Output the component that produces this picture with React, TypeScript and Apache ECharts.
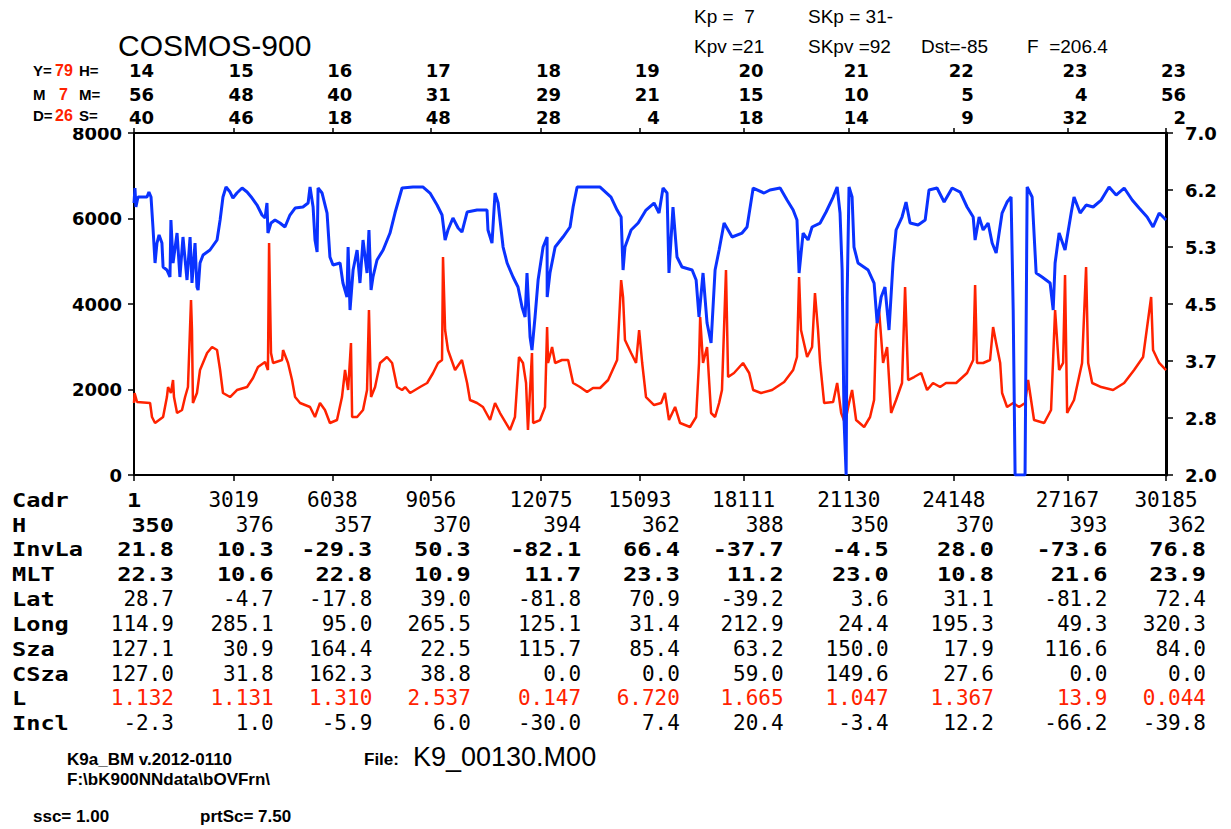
import React, { useEffect, useRef } from "react";
import * as echarts from "echarts";

// ---- time ticks (H, M, S rows) ----
const tickH = [14, 15, 16, 17, 18, 19, 20, 21, 22, 23, 23];
const tickM = [56, 48, 40, 31, 29, 21, 15, 10, 5, 4, 56];
const tickS = [40, 46, 18, 48, 28, 4, 18, 14, 9, 32, 2];

// ---- table rows ----
const cadr = [1, 3019, 6038, 9056, 12075, 15093, 18111, 21130, 24148, 27167, 30185];
const hRow = [350, 376, 357, 370, 394, 362, 388, 350, 370, 393, 362];
const invLa = [21.8, 10.3, -29.3, 50.3, -82.1, 66.4, -37.7, -4.5, 28.0, -73.6, 76.8];
const mlt = [22.3, 10.6, 22.8, 10.9, 11.7, 23.3, 11.2, 23.0, 10.8, 21.6, 23.9];
const lat = [28.7, -4.7, -17.8, 39.0, -81.8, 70.9, -39.2, 3.6, 31.1, -81.2, 72.4];
const lon = [114.9, 285.1, 95.0, 265.5, 125.1, 31.4, 212.9, 24.4, 195.3, 49.3, 320.3];
const sza = [127.1, 30.9, 164.4, 22.5, 115.7, 85.4, 63.2, 150.0, 17.9, 116.6, 84.0];
const csza = [127.0, 31.8, 162.3, 38.8, 0.0, 0.0, 59.0, 149.6, 27.6, 0.0, 0.0];
const lRow = ["1.132", "1.131", "1.310", "2.537", "0.147", "6.720", "1.665", "1.047", "1.367", "13.9", "0.044"];
const incl = [-2.3, 1.0, -5.9, 6.0, -30.0, 7.4, 20.4, -3.4, 12.2, -66.2, -39.8];

// ---- axes ----
const leftMin = 0, leftMax = 8000, leftStep = 2000;
const rightMin = 2.0, rightMax = 7.0, rightDivs = 6;

// ---- series: [minutes since first tick, counts] ----
const blueData: [number, number][] = [
  [0, 6362], [0.5, 6713], [1.0, 6269], [2.1, 6502], [6.8, 6502], [7.8, 6619], [8.9, 6502], [9.9, 5801],
  [11.0, 4959], [12.0, 5426], [13.1, 5614], [14.6, 5426], [15.2, 4865], [17.2, 4795], [18.8, 4631], [19.3, 5964],
  [20.4, 4959], [22.5, 5660], [24.0, 4631], [25.6, 5567], [27.7, 4561], [29.3, 5567], [30.3, 4491], [31.9, 5426],
  [32.9, 4397], [33.5, 4327], [34.5, 4959], [36.1, 5146], [39.7, 5263], [43.4, 5497], [45.0, 5964], [46.5, 6502],
  [48.1, 6736], [50.2, 6619], [51.7, 6479], [53.8, 6596], [56.5, 6713], [59.1, 6619], [61.7, 6479], [64.3, 6315],
  [66.9, 6081], [68.5, 6011], [69.5, 6362], [70.0, 5660], [71.6, 5894], [73.7, 5964], [76.3, 5894], [78.9, 5801],
  [81.5, 6081], [84.2, 6245], [88.3, 6269], [91.0, 6362], [92.0, 6736], [93.6, 6269], [94.6, 5497], [95.7, 5216],
  [96.2, 6713], [98.3, 6596], [100.9, 6128], [102.4, 5099], [104.0, 4912], [107.7, 4959], [109.2, 4491], [111.3, 4163],
  [111.9, 5333], [112.9, 3859], [114.5, 4795], [116.6, 5263], [118.1, 4491], [119.7, 5497], [121.8, 4725], [122.8, 5731],
  [123.9, 4327], [124.9, 4631], [127.0, 5029], [130.2, 5263], [133.8, 5660], [136.4, 6128], [140.1, 6713], [145.8, 6736],
  [151.1, 6736], [154.7, 6596], [158.4, 6315], [161.0, 6081], [162.6, 5497], [164.1, 5731], [166.7, 6011], [169.4, 5777],
  [171.4, 5684], [174.1, 6152], [179.3, 6198], [184.5, 6198], [185.0, 5731], [187.1, 5426], [188.7, 6596], [190.3, 6362],
  [192.9, 5333], [195.0, 4959], [198.1, 4631], [200.7, 4397], [202.8, 3930], [204.4, 3696], [205.4, 4725], [207.0, 3228],
  [208.0, 2924], [209.6, 3696], [211.2, 4561], [213.8, 5333], [215.9, 5567], [215.95, 4163], [217.4, 4725], [220.1, 5333],
  [224.2, 5567], [227.9, 5801], [229.5, 6269], [231.6, 6736], [243.6, 6736], [249.3, 6502], [252.5, 6198], [254.6, 6035],
  [255.6, 4795], [256.6, 5333], [259.8, 5731], [263.5, 5894], [267.6, 6198], [271.8, 6362], [274.4, 6128], [276.5, 6713],
  [278.6, 6596], [279.6, 4725], [281.7, 6269], [283.8, 5099], [286.4, 4865], [291.7, 4795], [293.8, 4561], [295.3, 3696],
  [297.4, 4725], [299.5, 3555], [301.6, 3087], [303.7, 4795], [305.8, 5263], [308.4, 5894], [310.5, 5731], [312.6, 5567],
  [317.8, 5660], [320.4, 5801], [323.6, 6713], [329.3, 6596], [332.4, 6666], [337.7, 6713], [341.3, 6432], [344.5, 6198],
  [346.5, 5964], [347.6, 4725], [349.7, 5660], [352.3, 5497], [354.4, 5801], [358.6, 5894], [361.7, 6152], [365.4, 6502],
  [367.5, 6736], [369.0, 6128], [370.1, 4795], [371.1, 1286], [372.2, 0], [372.7, 4163], [373.7, 6736], [375.3, 6502],
  [376.3, 5333], [378.4, 4959], [383.7, 4795], [386.8, 4491], [388.4, 3555], [390.5, 4163], [392.5, 4397], [394.6, 3392],
  [396.7, 4959], [398.3, 5731], [401.4, 6035], [403.5, 6385], [405.6, 5894], [409.8, 5848], [413.5, 5964], [415.5, 6666],
  [419.7, 6713], [423.4, 6385], [427.6, 6713], [431.8, 6619], [435.4, 6269], [438.6, 6035], [439.6, 5497], [441.7, 6035],
  [443.8, 5731], [446.4, 5894], [448.5, 5426], [450.6, 5193], [453.7, 6128], [456.3, 6385], [458.4, 6502], [459.5, 3859],
  [460.5, 0], [465.7, 0], [466.8, 6736], [469.4, 6502], [471.5, 4725], [474.6, 4631], [478.8, 4491], [480.4, 3859],
  [481.4, 4959], [483.5, 5660], [486.6, 5263], [489.8, 6128], [491.3, 6502], [494.5, 6128], [497.6, 6315], [501.3, 6269],
  [505.5, 6432], [509.6, 6736], [513.3, 6549], [517.5, 6713], [521.7, 6432], [525.3, 6245], [529.5, 6035], [532.6, 5801],
  [535.8, 6128], [539.4, 5964],
];

const redData: [number, number][] = [
  [0, 1684], [0.3, 1918], [1.6, 1707], [8.4, 1684], [9.4, 1357], [11.0, 1216], [15.2, 1357], [17.2, 1824],
  [17.8, 2058], [19.3, 1918], [20.4, 2222], [20.9, 1824], [22.5, 1450], [25.1, 1520], [26.7, 1824], [28.2, 2058],
  [29.8, 4093], [30.3, 3392], [30.8, 1684], [32.9, 1918], [34.5, 2456], [38.2, 2854], [40.8, 2994], [43.4, 2924],
  [45.0, 2456], [46.5, 1918], [50.2, 1824], [53.8, 1988], [59.1, 2058], [62.2, 2269], [64.8, 2526], [68.5, 2643],
  [70.0, 2456], [70.6, 5427], [71.6, 2854], [72.7, 2620], [77.4, 2690], [77.9, 2924], [80.5, 2620], [82.6, 2222],
  [84.2, 1824], [86.8, 1684], [92.0, 1591], [94.6, 1357], [97.2, 1684], [99.8, 1520], [102.4, 1216], [106.1, 1286],
  [108.7, 1824], [110.3, 2456], [111.9, 1988], [113.4, 3087], [114.0, 1357], [116.6, 1357], [119.7, 1520], [121.8, 1988],
  [122.8, 3859], [123.9, 1824], [126.0, 2058], [128.6, 2620], [132.2, 2760], [134.9, 2620], [137.5, 2058], [140.1, 1988],
  [141.7, 2058], [144.3, 1918], [149.5, 2058], [153.2, 2152], [156.3, 2386], [158.9, 2620], [161.0, 2690], [161.5, 5099],
  [162.6, 3392], [164.1, 2924], [167.8, 2456], [171.4, 2690], [174.1, 2152], [175.6, 1754], [179.3, 1684], [182.4, 1591],
  [186.1, 1286], [188.7, 1684], [191.3, 1450], [196.5, 1053], [199.1, 1357], [201.2, 2760], [203.3, 2620], [204.9, 2152],
  [205.9, 1053], [208.0, 2854], [208.6, 1216], [212.2, 1286], [214.8, 1591], [215.9, 3462], [216.4, 2620], [218.5, 2994],
  [220.1, 2620], [223.7, 2690], [226.9, 2690], [229.5, 2152], [233.1, 2058], [236.8, 1941], [239.9, 2035], [243.6, 2035],
  [247.8, 2222], [252.5, 2690], [254.6, 4561], [255.6, 4163], [256.6, 3158], [259.8, 2854], [262.4, 2620], [264.0, 3392],
  [265.6, 2620], [267.6, 1824], [271.8, 1637], [275.5, 1684], [277.5, 1918], [279.6, 1286], [282.8, 1591], [285.4, 1216],
  [290.6, 1123], [293.8, 1357], [295.3, 2620], [295.9, 3696], [297.4, 2620], [299.5, 2994], [301.6, 1450], [303.7, 1357],
  [305.8, 1684], [307.3, 1988], [309.4, 4795], [310.5, 2292], [313.6, 2386], [318.3, 2620], [321.5, 2386], [323.6, 1988],
  [327.7, 1918], [333.5, 1988], [339.8, 2175], [344.5, 2456], [346.5, 2760], [347.6, 4631], [348.6, 3392], [351.8, 2760],
  [354.4, 2994], [355.9, 4257], [357.5, 3392], [358.6, 2620], [360.7, 1684], [365.4, 1707], [367.5, 2152], [369.6, 1450],
  [371.6, 1216], [373.7, 1684], [375.3, 1988], [377.4, 1286], [381.6, 1123], [384.7, 1357], [386.8, 1754], [387.8, 3392],
  [389.4, 3859], [391.5, 2620], [393.6, 2994], [395.7, 1450], [398.3, 1754], [401.4, 2152], [403.0, 4397], [404.6, 2222],
  [407.7, 2292], [411.4, 2386], [414.5, 1988], [417.6, 2152], [421.3, 2058], [424.4, 2152], [429.7, 2152], [435.4, 2386],
  [438.6, 2690], [439.6, 4444], [440.6, 2620], [443.8, 2620], [447.4, 2690], [449.0, 3462], [450.6, 3087], [452.7, 2620],
  [453.7, 1918], [456.3, 1591], [459.5, 1684], [462.6, 1591], [465.7, 1684], [467.3, 2222], [470.4, 1286], [475.7, 1216],
  [479.3, 1520], [481.4, 3859], [483.5, 2456], [485.6, 2620], [486.6, 4678], [487.7, 1450], [491.3, 1754], [495.5, 2620],
  [497.6, 4865], [498.7, 2620], [500.8, 2152], [505.5, 2058], [511.7, 1988], [517.5, 2152], [522.7, 2456], [527.4, 2760],
  [531.6, 4163], [532.6, 2924], [535.8, 2620], [539.4, 2456],
];

const startSec = tickH[0] * 3600 + tickM[0] * 60 + tickS[0];
const tickMinutes = tickH.map((h, i) => (h * 3600 + tickM[i] * 60 + tickS[i] - startSec) / 60);
const xMax = tickMinutes[tickMinutes.length - 1];

const f1 = (v: number) => v.toFixed(1);

const MONO = '"DejaVu Sans Mono", monospace';
const SANS = '"Liberation Sans", Arial, sans-serif';
const DJ = '"DejaVu Sans", sans-serif';
const RED = "#ff2200";

function txt(text: string, x: number, y: number, o: any = {}) {
  const align = o.align || "left";
  return {
    type: "text",
    x,
    y,
    z: 101,
    silent: true,
    scaleX: o.sx || 1,
    style: {
      text,
      fill: o.color || "#000",
      font: o.font,
      textAlign: align,
      textVerticalAlign: "middle",
      align,
      verticalAlign: "middle",
    },
  };
}

export default function App() {
  const ref = useRef<HTMLDivElement>(null);

  useEffect(() => {
    if (!ref.current) return;
    const chart = echarts.init(ref.current, null, { renderer: "svg" });
    const axisLine = (w: number) => ({ show: true, onZero: false, lineStyle: { color: "#000", width: w } });
    const option: any = {
      animation: false,
      backgroundColor: "#ffffff",
      grid: { left: 134, right: 65, top: 133, bottom: 354, containLabel: false },
      xAxis: [
        {
          type: "value", min: 0, max: xMax, position: "bottom",
          axisLine: axisLine(2),
          axisTick: { show: true, length: 6, customValues: tickMinutes, lineStyle: { color: "#000", width: 1.5 } },
          axisLabel: { show: false },
          splitLine: { show: false },
        },
        {
          type: "value", min: 0, max: xMax, position: "top",
          axisLine: axisLine(2),
          axisTick: { show: true, length: 5, customValues: tickMinutes, lineStyle: { color: "#000", width: 1.5 } },
          axisLabel: { show: false },
          splitLine: { show: false },
        },
      ],
      yAxis: [
        {
          type: "value", min: leftMin, max: leftMax, interval: leftStep, position: "left",
          axisLine: axisLine(2),
          axisTick: { show: true, length: 6, lineStyle: { color: "#000", width: 1.5 } },
          axisLabel: {
            margin: 12, fontFamily: DJ, fontWeight: "bold", fontSize: 18, color: "#000",
            formatter: (v: number) => String(v),
          },
          splitLine: { show: false },
        },
        {
          type: "value", min: rightMin, max: rightMax, interval: (rightMax - rightMin) / rightDivs, position: "right",
          axisLine: axisLine(3),
          axisTick: { show: true, length: 7, lineStyle: { color: "#000", width: 1.5 } },
          axisLabel: { margin: 19, fontFamily: DJ, fontWeight: "bold", fontSize: 18, color: "#000", formatter: (v: number) => v.toFixed(1) },
          splitLine: { show: false },
        },
      ],
      series: [
        {
          type: "line", name: "red", data: redData, xAxisIndex: 0, yAxisIndex: 0,
          showSymbol: false, symbol: "none", silent: true,
          lineStyle: { color: RED, width: 2.5 },
        },
        {
          type: "line", name: "blue", data: blueData, xAxisIndex: 0, yAxisIndex: 0,
          showSymbol: false, symbol: "none", silent: true,
          lineStyle: { color: "#0a32ff", width: 3 },
        },
      ],
    };
    chart.setOption(option);

    const px = (m: number) => chart.convertToPixel({ xAxisIndex: 0 }, m) as number;
    const els: any[] = [];

    // cover top of "8000" label like the reference
    els.push({ type: "rect", z: 100, silent: true, shape: { x: 60, y: 100, width: 72, height: 28 }, style: { fill: "#fff" } });

    // headers
    els.push(txt("COSMOS-900", 118, 45, { font: `30px ${SANS}` }));
    els.push(txt("Kp =  7", 694, 16, { font: `19px ${SANS}` }));
    els.push(txt("SKp = 31-", 808, 16, { font: `19px ${SANS}` }));
    els.push(txt("Kpv =21", 694, 46, { font: `19px ${SANS}` }));
    els.push(txt("SKpv =92", 808, 46, { font: `19px ${SANS}` }));
    els.push(txt("Dst=-85", 921, 46, { font: `19px ${SANS}` }));
    els.push(txt("F  =206.4", 1027, 46, { font: `19px ${SANS}` }));

    const lb = `bold 15px ${SANS}`;
    const lr = `bold 16px ${SANS}`;
    els.push(txt("Y=", 33, 70, { font: lb }));
    els.push(txt("79", 55, 70, { font: lr, color: RED }));
    els.push(txt("H=", 79, 70, { font: lb }));
    els.push(txt("M", 33, 94, { font: lb }));
    els.push(txt("7", 59, 94, { font: lr, color: RED }));
    els.push(txt("M=", 79, 94, { font: lb }));
    els.push(txt("D=", 33, 115, { font: lb }));
    els.push(txt("26", 55, 115, { font: lr, color: RED }));
    els.push(txt("S=", 79, 115, { font: lb }));

    const hms = `bold 18px ${DJ}`;
    tickMinutes.forEach((t, i) => {
      const x = px(t) + 20;
      els.push(txt(String(tickH[i]), x, 70, { font: hms, align: "right" }));
      els.push(txt(String(tickM[i]), x, 94, { font: hms, align: "right" }));
      els.push(txt(String(tickS[i]), x, 117, { font: hms, align: "right" }));
    });

    // table
    const normalF = `21px ${MONO}`;
    const boldF = `bold 20px ${MONO}`;
    const rows: { label: string; vals: string[]; bold: (i: number) => boolean; color?: string; center?: boolean }[] = [
      { label: "Cadr", vals: cadr.map(String), bold: (i) => i === 0, center: true },
      { label: "H", vals: hRow.map(String), bold: (i) => i === 0 },
      { label: "InvLa", vals: invLa.map(f1), bold: () => true },
      { label: "MLT", vals: mlt.map(f1), bold: () => true },
      { label: "Lat", vals: lat.map(f1), bold: () => false },
      { label: "Long", vals: lon.map(f1), bold: () => false },
      { label: "Sza", vals: sza.map(f1), bold: () => false },
      { label: "CSza", vals: csza.map(f1), bold: () => false },
      { label: "L", vals: lRow, bold: () => false, color: RED },
      { label: "Incl", vals: incl.map(f1), bold: () => false },
    ];
    const rowY = [500, 525, 549, 574, 599, 624, 649, 674, 698, 723];
    rows.forEach((r, ri) => {
      const y = rowY[ri];
      els.push(txt(r.label, 12, y, { font: `bold 20px ${MONO}`, sx: 1.18 }));
      r.vals.forEach((v, i) => {
        const t = px(tickMinutes[i]);
        const b = r.bold(i);
        if (r.center) {
          els.push(txt(v, t, y, { font: b ? boldF : normalF, align: "center", sx: b ? 1.18 : 1 }));
        } else {
          els.push(txt(v, t + 40, y, { font: b ? boldF : normalF, align: "right", sx: b ? 1.18 : 1, color: r.color }));
        }
      });
    });

    // footer
    const fb = `bold 17px ${SANS}`;
    els.push(txt("K9a_BM v.2012-0110", 67, 759, { font: fb }));
    els.push(txt("File:", 364, 759, { font: fb }));
    els.push(txt("K9_00130.M00", 413, 757, { font: `27px ${SANS}` }));
    els.push(txt("F:\\bK900NNdata\\bOVFrn\\", 67, 779, { font: fb }));
    els.push(txt("ssc= 1.00", 33, 816, { font: fb }));
    els.push(txt("prtSc= 7.50", 200, 816, { font: fb }));

    chart.setOption({ graphic: { elements: els } });

    return () => chart.dispose();
  }, []);

  return <div ref={ref} style={{ position: "absolute", left: 0, top: 0, width: 1231, height: 829, background: "#fff" }} />;
}
